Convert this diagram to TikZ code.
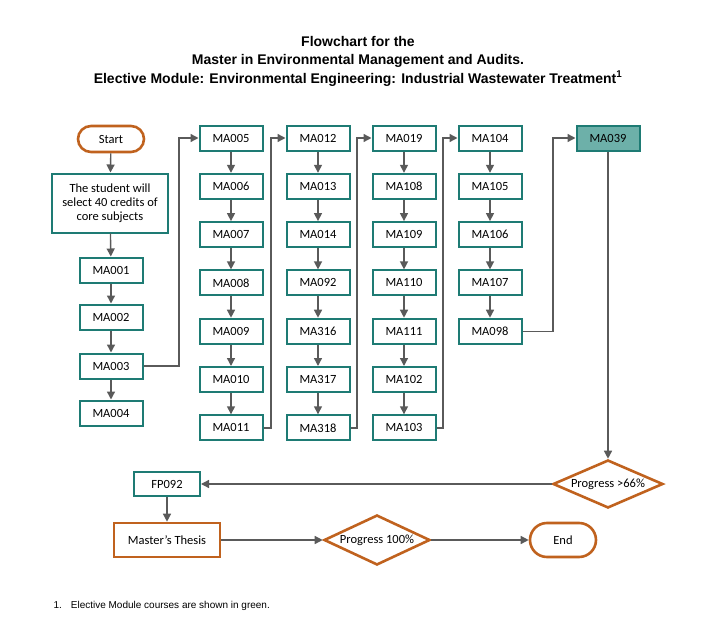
\documentclass[tikz,border=0pt]{standalone}
\usepackage{fontspec}
\setmainfont{Liberation Sans}
\newfontfamily\carl{Carlito}
\usetikzlibrary{shapes.geometric,arrows.meta}
\definecolor{teal1}{HTML}{1E7B74}
\definecolor{orng}{HTML}{C0621E}
\definecolor{tfill}{HTML}{6DB0A9}
\definecolor{arr}{HTML}{5A5A5A}
\begin{document}
\begin{tikzpicture}[x=1pt,y=-1pt,
 box/.style={draw=teal1,line width=2pt,minimum width=63pt,minimum height=25pt,inner sep=1pt,font=\carl\fontsize{12.5}{14}\selectfont},
 obox/.style={box,draw=orng,line width=2.6pt},
 term/.style={draw=orng,line width=2.6pt,rounded corners=13pt,minimum width=66pt,font=\carl\fontsize{12.5}{14}\selectfont},
 dia/.style={diamond,aspect=2.3,draw=orng,line width=2.6pt,inner sep=0pt,font=\carl\fontsize{12.5}{14}\selectfont},
 ar/.style={draw=arr,line width=1.4pt,-{Triangle[length=8pt,width=8pt]}}]
\useasboundingbox (0,0) rectangle (716,643);
\node[font=\bfseries\fontsize{14}{18.5}\selectfont,align=center] (t) at (358,61) {Flowchart for the\\Master in Environmental Management and Audits.\\Elective Module: Environmental Engineering: Industrial Wastewater Treatment\textsuperscript{1}};
\node[term,minimum height=26pt] (start) at (111,139) {Start};
\node[box,minimum width=116pt,minimum height=59pt,align=center] (stu) at (110,203) {The student will\\select 40 credits of\\core subjects};
\node[box] (a1) at (111,270) {MA001};
\node[box] (a2) at (111,317) {MA002};
\node[box] (a3) at (111,366) {MA003};
\node[box] (a4) at (111,413) {MA004};
\foreach \n [count=\i] in {MA005,MA006,MA007,MA008,MA009,MA010,MA011}
  \node[box] (b\i) at (231,138+48.3*\i-48.3) {\n};
\foreach \n [count=\i] in {MA012,MA013,MA014,MA092,MA316,MA317,MA318}
  \node[box] (c\i) at (318,138+48.3*\i-48.3) {\n};
\foreach \n [count=\i] in {MA019,MA108,MA109,MA110,MA111,MA102,MA103}
  \node[box] (d\i) at (404,138+48.3*\i-48.3) {\n};
\foreach \n [count=\i] in {MA104,MA105,MA106,MA107,MA098}
  \node[box] (e\i) at (490,138+48.3*\i-48.3) {\n};
\node[box,fill=tfill] (f) at (608,138) {MA039};
\node[dia,minimum width=110pt,minimum height=48pt] (p1) at (608,484) {Progress >66\%};
\node[box,minimum width=66pt,minimum height=24pt] (fp) at (167,484) {FP092};
\node[obox,minimum width=106pt,minimum height=34pt] (th) at (167,540) {Master’s Thesis};
\node[dia,minimum width=106pt,minimum height=50pt] (p2) at (377,540) {Progress 100\%};
\node[term,minimum height=34pt,rounded corners=17pt] (end) at (563,540) {End};
\node[anchor=west,font=\fontsize{10}{12}\selectfont] (fn) at (50,606) {1.\hspace{9pt}Elective Module courses are shown in green.};
\draw[ar] (start)--(stu); \draw[ar] (stu)--(a1); \draw[ar] (a1)--(a2); \draw[ar] (a2)--(a3); \draw[ar] (a3)--(a4);
\foreach \i/\j in {1/2,2/3,3/4,4/5,5/6,6/7}{\draw[ar] (b\i)--(b\j); \draw[ar] (c\i)--(c\j); \draw[ar] (d\i)--(d\j);}
\foreach \i/\j in {1/2,2/3,3/4,4/5}{\draw[ar] (e\i)--(e\j);}
\draw[ar] (a3.east) -| (179,138) -- (b1.west);
\draw[ar] (b7.east) -| (271,138) -- (c1.west);
\draw[ar] (c7.east) -| (357,138) -- (d1.west);
\draw[ar] (d7.east) -| (443,138) -- (e1.west);
\draw[ar] (e5.east) -| (553,138) -- (f.west);
\draw[ar] (f)--(p1); \draw[ar] (p1)--(fp); \draw[ar] (fp)--(th); \draw[ar] (th)--(p2); \draw[ar] (p2)--(end);
\end{tikzpicture}
\end{document}
